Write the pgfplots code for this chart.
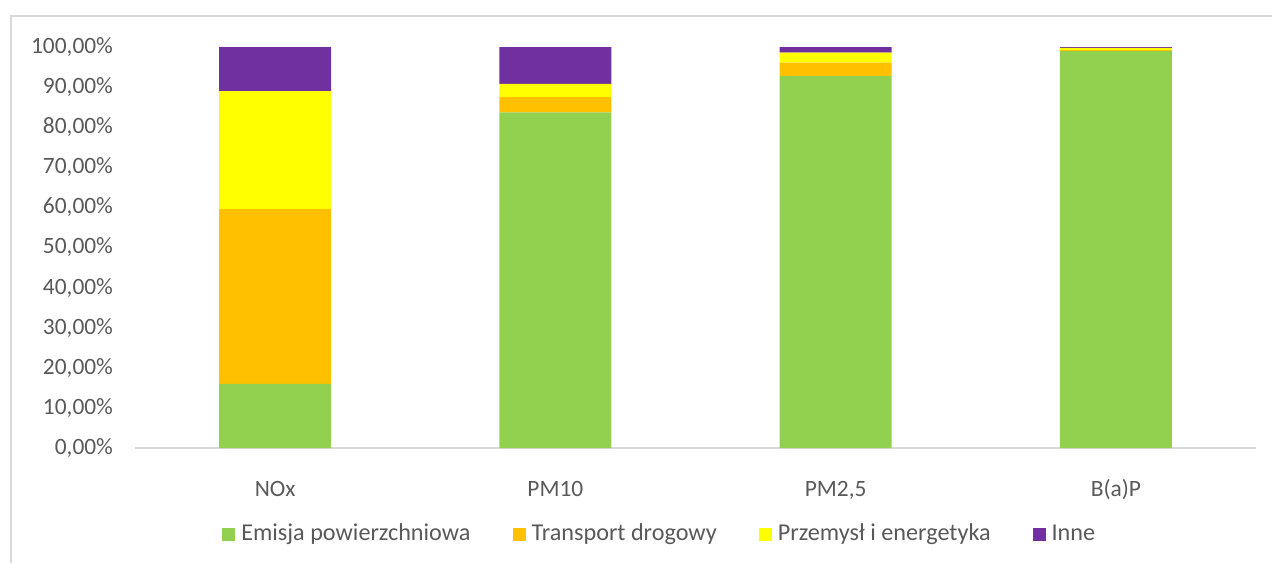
\documentclass[border=0pt]{standalone}
\usepackage{pgfplots}
\pgfplotsset{compat=1.18}
\usepackage{fontspec}
\setmainfont{Carlito}
\definecolor{cgreen}{HTML}{92D050}
\definecolor{corange}{HTML}{FFC000}
\definecolor{cyellow}{HTML}{FFFF00}
\definecolor{cpurple}{HTML}{7030A0}
\definecolor{ctext}{HTML}{595959}
\definecolor{caxis}{HTML}{D9D9D9}
\begin{document}
\begin{tikzpicture}[x=0.5pt,y=0.5pt]
\useasboundingbox (0,0) rectangle (1272,563);
\draw[caxis,line width=1pt] (11,0) -- (11,547) -- (1272,547);
\begin{axis}[
  at={(67.5pt,57.5pt)}, anchor=south west,
  scale only axis, width=560.5pt, height=200.5pt,
  ybar stacked, bar width=0.4,
  xmin=-0.5, xmax=3.5, ymin=0, ymax=100,
  xtick={0,1,2,3}, xticklabels={NOx,PM10,PM2{,}5,B(a)P},
  ytick={0,10,...,100},
  yticklabels={{0,00\%},{10,00\%},{20,00\%},{30,00\%},{40,00\%},{50,00\%},{60,00\%},{70,00\%},{80,00\%},{90,00\%},{100,00\%}},
  axis x line*=bottom, axis y line*=left,
  x axis line style={caxis,line width=1pt,-},
  y axis line style={draw=none},
  major tick length=0pt,
  tick label style={font=\fontsize{11.7}{14}\selectfont, text=ctext},
  yticklabel style={anchor=east, xshift=-7.5pt},
  xticklabel style={anchor=base, yshift=-24pt},
  legend style={draw=none, fill=none, font=\fontsize{12.1}{14}\selectfont, text=ctext,
    at={(0.469,-0.2145)}, anchor=center, legend columns=4,
    /tikz/every even column/.append style={column sep=19pt}},
  legend image code/.code={\fill[#1] (0pt,-3.25pt) rectangle (6.5pt,3.25pt); \path (6.5pt,0pt) -- (7.5pt,0pt);},
]
\addplot[fill=cgreen, draw=none] coordinates {(0,16.0) (1,83.7) (2,92.8) (3,99.0)};
\addplot[fill=corange, draw=none] coordinates {(0,43.6) (1,3.8) (2,3.3) (3,0.2)};
\addplot[fill=cyellow, draw=none] coordinates {(0,29.4) (1,3.3) (2,2.5) (3,0.6)};
\addplot[fill=cpurple, draw=none] coordinates {(0,11.0) (1,9.2) (2,1.4) (3,0.2)};
\legend{Emisja powierzchniowa, Transport drogowy, Przemysł i energetyka, Inne}
\end{axis}
\end{tikzpicture}
\end{document}
